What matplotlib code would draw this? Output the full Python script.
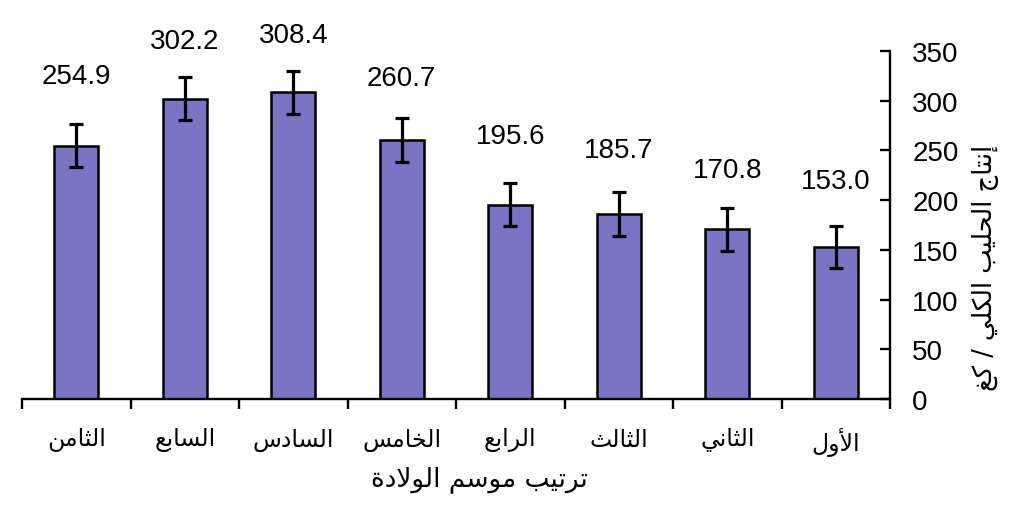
import matplotlib
matplotlib.use("Agg")
import matplotlib.pyplot as plt
import numpy as np

# ---------------- data ----------------
categories = ["الثامن", "السابع", "السادس", "الخامس", "الرابع", "الثالث", "الثاني", "الأول"]
values = [254.9, 302.2, 308.4, 260.7, 195.6, 185.7, 170.8, 153.0]
errors = [22.0, 21.5, 21.5, 22.0, 22.0, 22.0, 21.5, 21.3]
value_labels = ["254.9", "302.2", "308.4", "260.7", "195.6", "185.7", "170.8", "153.0"]
x_title = "ترتيب موسم الولادة"
y_title = "إنتاج الحليب الكلي / كغ"
y_ticks = [0, 50, 100, 150, 200, 250, 300, 350]

# label offsets above bar tops (pixels) - style
label_offsets = [70, 58, 57, 62, 69, 64, 59, 66]

# ------------- minimal Arabic shaping (presentation forms + RTL) -------------
FORMS = {
    '\u0627': ('\uFE8D', '\uFE8E', None, None),
    '\u0623': ('\uFE83', '\uFE84', None, None),
    '\u0625': ('\uFE87', '\uFE88', None, None),
    '\u0628': ('\uFE8F', '\uFE90', '\uFE91', '\uFE92'),
    '\u0629': ('\uFE93', '\uFE94', None, None),
    '\u062A': ('\uFE95', '\uFE96', '\uFE97', '\uFE98'),
    '\u062B': ('\uFE99', '\uFE9A', '\uFE9B', '\uFE9C'),
    '\u062C': ('\uFE9D', '\uFE9E', '\uFE9F', '\uFEA0'),
    '\u062D': ('\uFEA1', '\uFEA2', '\uFEA3', '\uFEA4'),
    '\u062E': ('\uFEA5', '\uFEA6', '\uFEA7', '\uFEA8'),
    '\u062F': ('\uFEA9', '\uFEAA', None, None),
    '\u0631': ('\uFEAD', '\uFEAE', None, None),
    '\u0633': ('\uFEB1', '\uFEB2', '\uFEB3', '\uFEB4'),
    '\u0639': ('\uFEC9', '\uFECA', '\uFECB', '\uFECC'),
    '\u063A': ('\uFECD', '\uFECE', '\uFECF', '\uFED0'),
    '\u0643': ('\uFED9', '\uFEDA', '\uFEDB', '\uFEDC'),
    '\u0644': ('\uFEDD', '\uFEDE', '\uFEDF', '\uFEE0'),
    '\u0645': ('\uFEE1', '\uFEE2', '\uFEE3', '\uFEE4'),
    '\u0646': ('\uFEE5', '\uFEE6', '\uFEE7', '\uFEE8'),
    '\u0648': ('\uFEED', '\uFEEE', None, None),
    '\u064A': ('\uFEF1', '\uFEF2', '\uFEF3', '\uFEF4'),
    '\u0644\u0627': ('\uFEFB', '\uFEFC', None, None),
    '\u0644\u0623': ('\uFEF7', '\uFEF8', None, None),
    '\u0644\u0625': ('\uFEF9', '\uFEFA', None, None),
}


def shape(text):
    toks = []
    i = 0
    while i < len(text):
        pair = text[i:i + 2]
        if pair in FORMS and len(pair) == 2:
            toks.append(pair)
            i += 2
        else:
            toks.append(text[i])
            i += 1
    out = []
    for k, t in enumerate(toks):
        if t not in FORMS:
            out.append(t)
            continue
        iso, fin, ini, med = FORMS[t]
        prev = toks[k - 1] if k > 0 else None
        nxt = toks[k + 1] if k + 1 < len(toks) else None
        jp = prev is not None and prev in FORMS and FORMS[prev][2] is not None
        jn = ini is not None and nxt is not None and nxt in FORMS
        if jp and jn:
            out.append(med)
        elif jp:
            out.append(fin)
        elif jn:
            out.append(ini)
        else:
            out.append(iso)
    return "".join(out)[::-1]


AR_FONT = ['DejaVu Sans']
NUM_FONT = ['Liberation Sans', 'DejaVu Sans']

# ---------------- figure ----------------
fig = plt.figure(figsize=(10.24, 5.10), dpi=100)
ax = fig.add_axes([22 / 1024, 1 - 400 / 510, (890 - 22) / 1024, (400 - 52) / 510])

x = np.arange(len(categories))
ax.bar(x, values, width=0.41, color='#7b73c3', edgecolor='black', linewidth=1.8, zorder=2)
ax.errorbar(x, values, yerr=errors, fmt='none', ecolor='black', elinewidth=2.3,
            capsize=4.8, capthick=2.3, zorder=3)

for xi, v, lab, off in zip(x, values, value_labels, label_offsets):
    ax.annotate(lab, xy=(xi, v), xytext=(0, off), textcoords='offset pixels',
                ha='center', va='center', fontsize=20, family=NUM_FONT, annotation_clip=False)

ax.set_xlim(-0.5, len(categories) - 0.5)
ax.set_ylim(0, 350)

# spines
for s in ['top', 'left']:
    ax.spines[s].set_visible(False)
ax.spines['right'].set_linewidth(1.7)
ax.spines['bottom'].set_linewidth(1.7)

# y axis on the right
ax.yaxis.tick_right()
ax.yaxis.set_label_position('right')
ax.set_yticks(y_ticks)
ax.set_yticklabels([str(t) for t in y_ticks], fontsize=20, family=NUM_FONT)
ax.tick_params(axis='y', direction='in', length=7, width=1.7, pad=16)

# x axis: labels at centers, tick marks at boundaries
ax.set_xticks(x)
ax.set_xticklabels([shape(c) for c in categories], fontsize=17, family=AR_FONT)
ax.tick_params(axis='x', which='major', length=0, pad=20)
ax.set_xticks(np.arange(-0.5, len(categories) - 0.4, 1.0), minor=True)
ax.tick_params(axis='x', which='minor', direction='out', length=7, width=1.7)

ax.set_xlabel(shape(x_title), fontsize=19, family=AR_FONT)
ax.xaxis.set_label_coords(0.527, -0.19)
ax.set_ylabel(shape(y_title), fontsize=18.5, family=AR_FONT, rotation=90)
ax.yaxis.set_label_coords(1.095, 0.38)

fig.savefig('out.png', dpi=100)
